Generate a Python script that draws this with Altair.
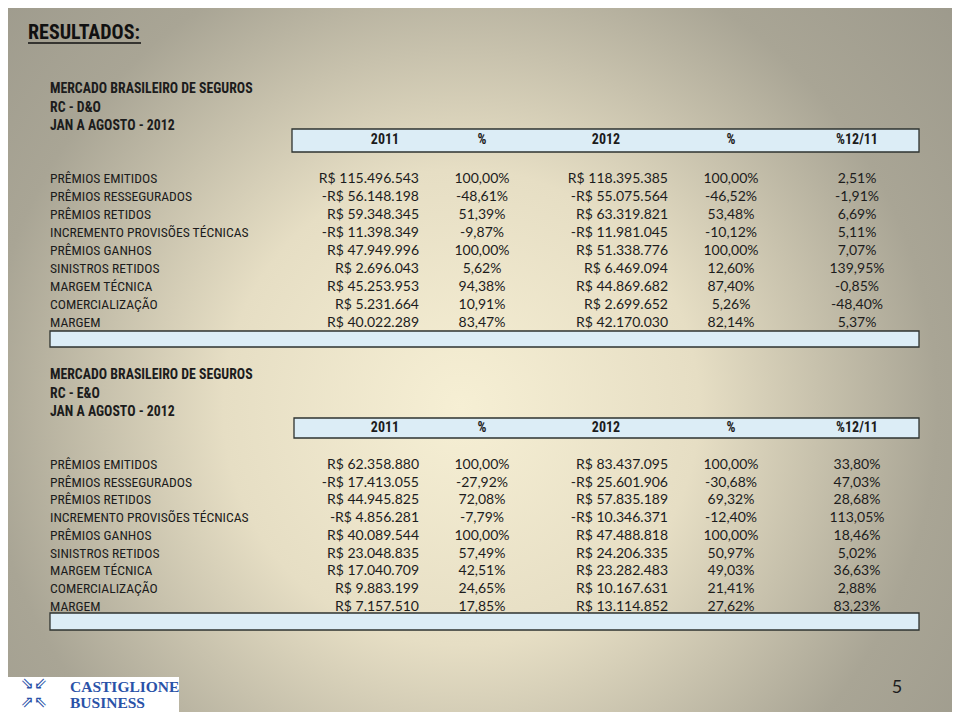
import altair as alt
import pandas as pd

# ---------------- data ----------------
row_labels = [
    "PRÊMIOS EMITIDOS", "PRÊMIOS RESSEGURADOS", "PRÊMIOS RETIDOS",
    "INCREMENTO PROVISÕES TÉCNICAS", "PRÊMIOS GANHOS", "SINISTROS RETIDOS",
    "MARGEM TÉCNICA", "COMERCIALIZAÇÃO", "MARGEM",
]
col_headers = ["2011", "%", "2012", "%", "%12/11"]

do_2011 = ["R$ 115.496.543", "-R$ 56.148.198", "R$ 59.348.345", "-R$ 11.398.349",
           "R$ 47.949.996", "R$ 2.696.043", "R$ 45.253.953", "R$ 5.231.664", "R$ 40.022.289"]
do_pct11 = ["100,00%", "-48,61%", "51,39%", "-9,87%", "100,00%", "5,62%", "94,38%", "10,91%", "83,47%"]
do_2012 = ["R$ 118.395.385", "-R$ 55.075.564", "R$ 63.319.821", "-R$ 11.981.045",
           "R$ 51.338.776", "R$ 6.469.094", "R$ 44.869.682", "R$ 2.699.652", "R$ 42.170.030"]
do_pct12 = ["100,00%", "-46,52%", "53,48%", "-10,12%", "100,00%", "12,60%", "87,40%", "5,26%", "82,14%"]
do_var = ["2,51%", "-1,91%", "6,69%", "5,11%", "7,07%", "139,95%", "-0,85%", "-48,40%", "5,37%"]

eo_2011 = ["R$ 62.358.880", "-R$ 17.413.055", "R$ 44.945.825", "-R$ 4.856.281",
           "R$ 40.089.544", "R$ 23.048.835", "R$ 17.040.709", "R$ 9.883.199", "R$ 7.157.510"]
eo_pct11 = ["100,00%", "-27,92%", "72,08%", "-7,79%", "100,00%", "57,49%", "42,51%", "24,65%", "17,85%"]
eo_2012 = ["R$ 83.437.095", "-R$ 25.601.906", "R$ 57.835.189", "-R$ 10.346.371",
           "R$ 47.488.818", "R$ 24.206.335", "R$ 23.282.483", "R$ 10.167.631", "R$ 13.114.852"]
eo_pct12 = ["100,00%", "-30,68%", "69,32%", "-12,40%", "100,00%", "50,97%", "49,03%", "21,41%", "27,62%"]
eo_var = ["33,80%", "47,03%", "28,68%", "113,05%", "18,46%", "5,02%", "36,63%", "2,88%", "83,23%"]

section_titles = [
    ["MERCADO BRASILEIRO DE SEGUROS", "RC - D&O", "JAN A AGOSTO - 2012"],
    ["MERCADO BRASILEIRO DE SEGUROS", "RC - E&O", "JAN A AGOSTO - 2012"],
]
page_title = "RESULTADOS:"
page_number = "5"
logo_lines = ["CASTIGLIONE", "BUSINESS"]
logo_icon = "⇘⇙\n⇗⇖"

# ---------------- layout ----------------
LFONT = "Liberation Sans Narrow, Roboto Condensed, Roboto"
NFONT = "Lato"
W, H = 944, 704
XS = alt.Scale(domain=[8, 952], range=[0, W])
YS = alt.Scale(domain=[712, 8], range=[H, 0])

sections = [
    dict(cols=[do_2011, do_pct11, do_2012, do_pct12, do_var], title_y=89, head_y=140,
         box=(292, 129, 919, 152), row_y0=179, row_dy=18.0, foot=(50, 331, 919, 347)),
    dict(cols=[eo_2011, eo_pct11, eo_2012, eo_pct12, eo_var], title_y=375, head_y=428,
         box=(294, 418, 919, 438), row_y0=465, row_dy=17.7, foot=(50, 613, 919, 630)),
]
head_x = [385, 482, 606, 731, 857]
val_x = [419, 482, 668, 731, 857]   # right edge for money cols, center for % cols
val_align = ["right", "center", "right", "center", "center"]

lab_rows, right_rows, center_rows, bold_rows, box_rows = [], [], [], [], []
for s, sec in enumerate(sections):
    for k, t in enumerate(section_titles[s]):
        bold_rows.append(dict(x=50, y=sec["title_y"] + 18.5 * k, t=t))
    for j, h in enumerate(col_headers):
        bold_rows.append(dict(x=head_x[j], y=sec["head_y"], t=h, c=1))
    x1, y1, x2, y2 = sec["box"]
    box_rows.append(dict(x=x1, x2=x2, y=y1, y2=y2))
    x1, y1, x2, y2 = sec["foot"]
    box_rows.append(dict(x=x1, x2=x2, y=y1, y2=y2))
    for i, lab in enumerate(row_labels):
        y = sec["row_y0"] + sec["row_dy"] * i
        lab_rows.append(dict(x=50, y=y, t=lab))
        for j, col in enumerate(sec["cols"]):
            d = dict(x=val_x[j], y=y, t=col[i])
            (right_rows if val_align[j] == "right" else center_rows).append(d)

bold_left = pd.DataFrame([r for r in bold_rows if "c" not in r])
bold_center = pd.DataFrame([r for r in bold_rows if "c" in r])


def text_layer(df, align, bold=False, size=14, color="#1c1c1c", font=LFONT):
    return alt.Chart(df).mark_text(
        align=align, baseline="middle", font=font, fontSize=size,
        fontWeight="bold" if bold else "normal", color=color,
    ).encode(
        x=alt.X("x:Q", scale=XS, axis=None),
        y=alt.Y("y:Q", scale=YS, axis=None),
        text="t:N",
    )


bg = alt.Chart(pd.DataFrame({"a": [0]})).mark_rect(
    fill=alt.RadialGradient(
        gradient="radial", x1=0.48, y1=0.55, r1=0.0, x2=0.48, y2=0.55, r2=0.72,
        stops=[alt.GradientStop(offset=0.0, color="#f6efd4"),
               alt.GradientStop(offset=0.35, color="#e6dec4"),
               alt.GradientStop(offset=0.7, color="#a9a595"),
               alt.GradientStop(offset=1.0, color="#9a978a")],
    )
).encode(x=alt.value(0), x2=alt.value(W), y=alt.value(0), y2=alt.value(H))

boxes = alt.Chart(pd.DataFrame(box_rows)).mark_rect(
    fill="#dcedf6", stroke="#2e3330", strokeWidth=1.3
).encode(
    x=alt.X("x:Q", scale=XS, axis=None), x2="x2:Q",
    y=alt.Y("y:Q", scale=YS, axis=None), y2="y2:Q",
)

title = alt.Chart(pd.DataFrame([dict(x=28, y=33, t=page_title)])).mark_text(
    align="left", baseline="middle", font=LFONT, fontSize=20, fontWeight="bold",
    color="#111111",
).encode(x=alt.X("x:Q", scale=XS, axis=None), y=alt.Y("y:Q", scale=YS, axis=None), text="t:N")

underline = alt.Chart(pd.DataFrame([dict(x=28, x2=141, y=43)])).mark_rule(
    color="#111111", strokeWidth=1.5
).encode(x=alt.X("x:Q", scale=XS, axis=None), x2="x2:Q", y=alt.Y("y:Q", scale=YS, axis=None))

logo_box = alt.Chart(pd.DataFrame({"a": [0]})).mark_rect(fill="#ffffff").encode(
    x=alt.value(-8), x2=alt.value(171), y=alt.value(669), y2=alt.value(712))

logo_txt = alt.Chart(pd.DataFrame([
    dict(x=70, y=687, t=logo_lines[0]), dict(x=70, y=703, t=logo_lines[1])
])).mark_text(
    align="left", baseline="middle", font="Liberation Serif", fontSize=15.5,
    fontWeight="bold", color="#2a52a8",
).encode(x=alt.X("x:Q", scale=XS, axis=None), y=alt.Y("y:Q", scale=YS, axis=None), text="t:N")

logo_ic = alt.Chart(pd.DataFrame([dict(x=34, y=684, t=logo_icon)])).mark_text(
    align="center", baseline="middle", font="DejaVu Sans", fontSize=16,
    lineBreak="\n", lineHeight=18, color="#2a52a8",
).encode(x=alt.X("x:Q", scale=XS, axis=None), y=alt.Y("y:Q", scale=YS, axis=None), text="t:N")

pnum = alt.Chart(pd.DataFrame([dict(x=897, y=688, t=page_number)])).mark_text(
    align="center", baseline="middle", font=NFONT, fontSize=18, color="#1c1c1c",
).encode(x=alt.X("x:Q", scale=XS, axis=None), y=alt.Y("y:Q", scale=YS, axis=None), text="t:N")

chart = alt.layer(
    bg, boxes, title, underline,
    text_layer(bold_left, "left", bold=True, size=13.8),
    text_layer(bold_center, "center", bold=True, size=14),
    text_layer(pd.DataFrame(lab_rows), "left", size=13.6),
    text_layer(pd.DataFrame(right_rows), "right", size=14, font=NFONT),
    text_layer(pd.DataFrame(center_rows), "center", size=14, font=NFONT),
    logo_box, logo_txt, logo_ic, pnum,
).properties(
    width=W, height=H, padding=0, autosize=alt.AutoSizeParams(type="none"),
    background="#9c998b",
).configure_view(strokeWidth=0)

chart.save("out.html", embed_options={"renderer": "svg", "actions": False})
